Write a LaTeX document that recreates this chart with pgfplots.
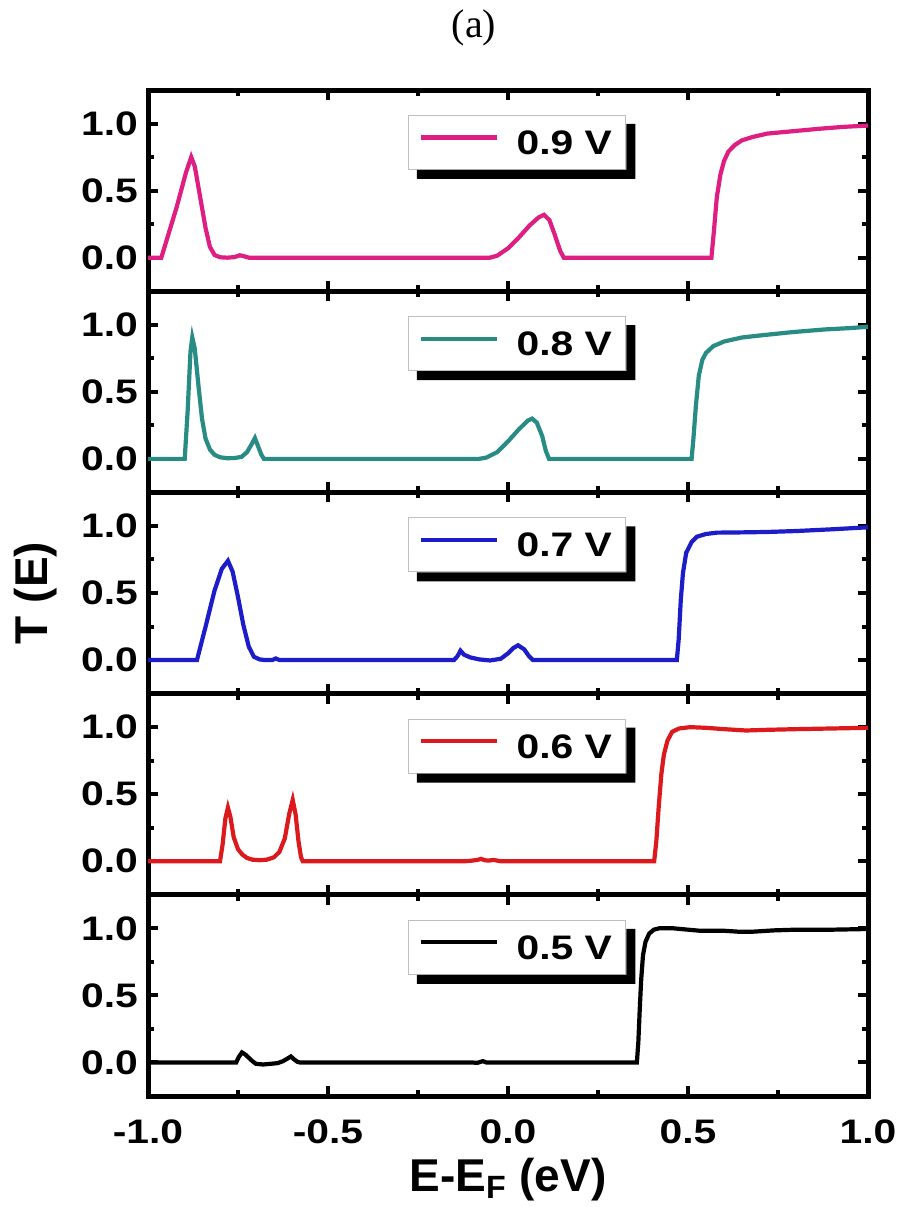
\documentclass[border=0pt]{standalone}
\usepackage{fontspec}
\setmainfont{Liberation Sans}
\newfontfamily\tickfont{Liberation Sans}[FakeStretch=1.2]
\newfontfamily\titlefont{Liberation Serif}
\usepackage{pgfplots}
\pgfplotsset{compat=1.18}
\usepgfplotslibrary{groupplots}

\definecolor{cNine}{RGB}{222,30,128}
\definecolor{cEight}{RGB}{40,140,132}
\definecolor{cSeven}{RGB}{28,28,200}
\definecolor{cSix}{RGB}{220,26,30}

% black offset strip along the right and bottom edges of a legend box
\newcommand{\legshadow}[1]{%
  \fill[black] ([yshift=-4.5pt]#1.north east) -- ([shift={(4.5pt,-4.5pt)}]#1.north east)
    -- ([shift={(4.5pt,-4.5pt)}]#1.south east) -- ([shift={(4.5pt,-4.5pt)}]#1.south west)
    -- ([xshift=4.5pt]#1.south west) -- (#1.south east) -- cycle;}

\begin{document}
\begin{tikzpicture}
\begin{groupplot}[
  group style={group size=1 by 5, vertical sep=0pt, xticklabels at=edge bottom},
  width=360pt, height=100.6pt, scale only axis,
  xmin=-1, xmax=1, ymin=-0.25, ymax=1.25,
  xtick={-1,-0.5,0,0.5,1}, minor xtick={-0.75,-0.25,0.25,0.75},
  ytick={0,0.5,1}, minor ytick={0.25,0.75},
  /pgf/number format/fixed, /pgf/number format/fixed zerofill,
  /pgf/number format/precision=1, /pgf/number format/assume math mode=true,
  tick align=inside,
  axis line style={line width=2.5pt},
  major tick length=5pt, minor tick length=3pt,
  every tick/.style={black, line width=2pt},
  ticklabel style={font=\tickfont\bfseries\fontsize{17}{19}\selectfont},
  xticklabel style={yshift=-8.5pt},
  yticklabel style={xshift=-1.5pt},
  every axis plot/.append style={line width=2.1pt},
  legend style={at={(0.361,0.876)}, anchor=north west, draw=gray!50, line width=0.5pt,
    fill=white,
    font=\tickfont\bfseries\fontsize{17}{19}\selectfont,
    inner xsep=5pt, inner ysep=7.5pt,
    nodes={inner xsep=2pt, inner ysep=0pt, text height=12pt, text depth=0pt},
    /tikz/every odd column/.append style={column sep=7pt}},
  legend image code/.code={\draw[#1, line width=2.1pt] (0pt,0.25em) -- (38pt,0.25em);},
]

% 0.9 V
\nextgroupplot[legend style={name=L1}]
\addplot[cNine] coordinates {
(-1.0,0) (-0.963,0) (-0.92,0.38) (-0.895,0.63) (-0.88,0.75) (-0.87,0.68) (-0.855,0.45)
(-0.84,0.22) (-0.828,0.08) (-0.815,0.02) (-0.80,0.003) (-0.78,0.0) (-0.76,0.004)
(-0.745,0.018) (-0.735,0.012) (-0.72,0.0) (-0.05,0.0) (-0.03,0.015) (0.0,0.07)
(0.03,0.15) (0.06,0.24) (0.085,0.30) (0.10,0.32) (0.115,0.28) (0.13,0.17) (0.145,0.05)
(0.155,0.0) (0.565,0.0) (0.572,0.2) (0.58,0.45) (0.59,0.62) (0.60,0.72) (0.612,0.79)
(0.63,0.84) (0.65,0.875) (0.68,0.90) (0.72,0.925) (0.78,0.94) (0.86,0.96) (0.93,0.975)
(1.0,0.985)};
\addlegendentry{0.9 V}

% 0.8 V
\nextgroupplot[legend style={name=L2}]
\addplot[cEight] coordinates {
(-1,0) (-0.898,0) (-0.89,0.35) (-0.882,0.80) (-0.877,0.905) (-0.870,0.82) (-0.86,0.55)
(-0.85,0.30) (-0.84,0.15) (-0.828,0.07) (-0.815,0.03) (-0.80,0.012) (-0.78,0.005)
(-0.76,0.006) (-0.74,0.015) (-0.725,0.05) (-0.712,0.11) (-0.703,0.155) (-0.695,0.10)
(-0.685,0.03) (-0.678,0.0) (-0.08,0.0) (-0.06,0.01) (-0.03,0.05) (0.0,0.13) (0.03,0.22)
(0.055,0.285) (0.067,0.30) (0.08,0.27) (0.095,0.17) (0.105,0.06) (0.114,0.0) (0.51,0.0)
(0.515,0.15) (0.522,0.40) (0.53,0.62) (0.54,0.74) (0.55,0.79) (0.57,0.84) (0.60,0.875)
(0.65,0.905) (0.70,0.92) (0.79,0.945) (0.88,0.965) (0.95,0.975) (1.0,0.985)};
\addlegendentry{0.8 V}

% 0.7 V
\nextgroupplot[legend style={name=L3}, ylabel={T (E)},
  ylabel style={font=\bfseries\fontsize{23}{26}\selectfont, yshift=5pt}]
\addplot[cSeven] coordinates {
(-1,0) (-0.864,0) (-0.84,0.25) (-0.815,0.52) (-0.795,0.68) (-0.778,0.74) (-0.765,0.66)
(-0.75,0.47) (-0.735,0.26) (-0.72,0.10) (-0.706,0.025) (-0.69,0.005) (-0.675,0.0)
(-0.655,0.0) (-0.645,0.012) (-0.635,0.0) (-0.15,0.0) (-0.14,0.03) (-0.132,0.07)
(-0.122,0.04) (-0.105,0.02) (-0.08,0.005) (-0.05,-0.003) (-0.02,0.01) (0.0,0.05)
(0.015,0.09) (0.028,0.11) (0.045,0.08) (0.058,0.03) (0.069,0.0) (0.469,0.0) (0.474,0.15)
(0.48,0.45) (0.486,0.65) (0.495,0.80) (0.51,0.88) (0.525,0.92) (0.55,0.94) (0.58,0.95)
(0.65,0.952) (0.72,0.955) (0.80,0.962) (0.90,0.975) (1.0,0.99)};
\addlegendentry{0.7 V}

% 0.6 V
\nextgroupplot[legend style={name=L4}]
\addplot[cSix] coordinates {
(-1,0) (-0.80,0) (-0.793,0.12) (-0.785,0.32) (-0.778,0.40) (-0.771,0.33) (-0.762,0.18)
(-0.75,0.09) (-0.738,0.05) (-0.725,0.025) (-0.71,0.012) (-0.69,0.008) (-0.67,0.012)
(-0.65,0.03) (-0.635,0.07) (-0.62,0.17) (-0.608,0.35) (-0.598,0.457) (-0.59,0.35)
(-0.582,0.15) (-0.575,0.03) (-0.57,0.0) (-0.12,0.0) (-0.10,0.005) (-0.085,0.01)
(-0.075,0.018) (-0.065,0.008) (-0.055,0.005) (-0.04,0.01) (-0.03,0.005) (-0.02,0.0)
(0.406,0.0) (0.412,0.15) (0.419,0.42) (0.426,0.65) (0.433,0.795) (0.443,0.90)
(0.456,0.965) (0.475,0.99) (0.506,1.0) (0.55,0.995) (0.60,0.985) (0.661,0.975)
(0.72,0.98) (0.80,0.985) (0.90,0.99) (1.0,0.995)};
\addlegendentry{0.6 V}

% 0.5 V
\nextgroupplot[legend style={name=L5}, xlabel={E-E\textsubscript{F} (eV)},
  xlabel style={font=\bfseries\fontsize{23}{26}\selectfont, yshift=0pt}]
\addplot[black] coordinates {
(-1,0) (-0.755,0) (-0.748,0.04) (-0.739,0.075) (-0.73,0.06) (-0.72,0.035) (-0.71,0.01)
(-0.70,-0.01) (-0.68,-0.015) (-0.66,-0.01) (-0.64,-0.005) (-0.625,0.01) (-0.612,0.03)
(-0.603,0.045) (-0.595,0.025) (-0.585,0.005) (-0.578,0.0) (-0.10,0.0) (-0.085,-0.003)
(-0.07,0.01) (-0.06,0.0) (0.358,0.0) (0.362,0.15) (0.366,0.40) (0.37,0.62) (0.375,0.80)
(0.382,0.90) (0.392,0.96) (0.405,0.99) (0.42,1.0) (0.46,1.0) (0.50,0.99) (0.533,0.982)
(0.60,0.982) (0.64,0.975) (0.68,0.975) (0.74,0.985) (0.80,0.99) (0.90,0.99) (1.0,0.995)};
\addlegendentry{0.5 V}
\end{groupplot}

\legshadow{L1}\legshadow{L2}\legshadow{L3}\legshadow{L4}\legshadow{L5}

\node[font=\titlefont\fontsize{20}{24}\selectfont] at ([shift={(-17pt,31pt)}]group c1r1.north) {(a)};

\pgfresetboundingbox
\path ([shift={(-74pt,45pt)}]group c1r1.north west) rectangle ([shift={(15pt,-55.5pt)}]group c1r5.south east);
\end{tikzpicture}
\end{document}
